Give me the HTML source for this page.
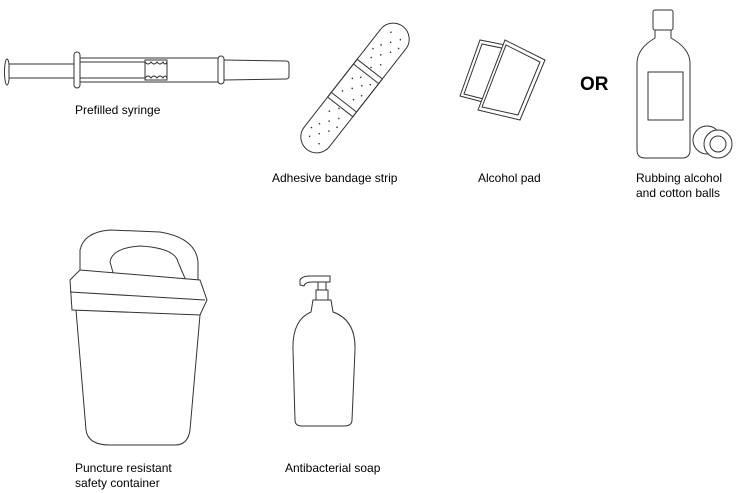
<!DOCTYPE html>
<html><head><style>
body{margin:0;background:#fff;width:739px;height:493px;overflow:hidden;}
svg{position:absolute;left:0;top:0}
text{font-family:"Liberation Sans",sans-serif;font-size:12px;fill:#000}
</style></head><body>
<svg width="739" height="493" viewBox="0 0 739 493" fill="none" stroke="#333" stroke-width="1">
<!-- syringe -->
<ellipse cx="7" cy="72" rx="2.5" ry="13" fill="#fff"/>
<rect x="9" y="64" width="65" height="14" fill="#fff"/>
<rect x="74" y="52" width="6" height="36" rx="3" fill="#fff"/>
<rect x="80" y="58" width="140" height="24" fill="#fff"/>
<line x1="80" y1="62" x2="145" y2="62"/><line x1="80" y1="78" x2="145" y2="78"/>
<rect x="145" y="60" width="22" height="20"/>
<path d="M145 62 q3 4 6 0 q3 4 6 0 q3 4 6 0 q2 4 4 0 M145 78 q3 -4 6 0 q3 -4 6 0 q3 -4 6 0 q2 -4 4 0"/>
<rect x="218" y="56" width="6" height="28" rx="3" fill="#fff"/>
<path d="M224 60 L286 61 Q289 61 289 64 L289 76 Q289 79 286 79 L224 80"/>
<text x="75" y="114" stroke="none">Prefilled syringe</text>
<!-- bandage -->
<g transform="translate(355,88) rotate(-52)">
<rect x="-78" y="-16" width="156" height="32" rx="16" fill="#fff"/>
<rect x="-24" y="-16" width="48" height="32"/>
<line x1="-18" y1="-16" x2="-18" y2="16"/><line x1="18" y1="-16" x2="18" y2="16"/>
<g fill="#333" stroke="none">
<circle cx="-66" cy="-6" r=".8"/><circle cx="-58" cy="0" r=".8"/><circle cx="-66" cy="6" r=".8"/><circle cx="-50" cy="-6" r=".8"/><circle cx="-50" cy="6" r=".8"/><circle cx="-42" cy="0" r=".8"/><circle cx="-34" cy="-6" r=".8"/><circle cx="-34" cy="6" r=".8"/><circle cx="-26" cy="0" r=".8"/><circle cx="-58" cy="-10" r=".8"/><circle cx="-42" cy="10" r=".8"/>
<circle cx="-10" cy="-8" r=".8"/><circle cx="-2" cy="-2" r=".8"/><circle cx="6" cy="4" r=".8"/><circle cx="-10" cy="6" r=".8"/><circle cx="6" cy="-8" r=".8"/><circle cx="-2" cy="10" r=".8"/><circle cx="12" cy="10" r=".8"/><circle cx="12" cy="-2" r=".8"/>
<circle cx="66" cy="-6" r=".8"/><circle cx="58" cy="0" r=".8"/><circle cx="66" cy="6" r=".8"/><circle cx="50" cy="-6" r=".8"/><circle cx="50" cy="6" r=".8"/><circle cx="42" cy="0" r=".8"/><circle cx="34" cy="-6" r=".8"/><circle cx="34" cy="6" r=".8"/><circle cx="26" cy="0" r=".8"/><circle cx="58" cy="10" r=".8"/><circle cx="42" cy="-10" r=".8"/>
</g></g>
<text x="272" y="182" stroke="none">Adhesive bandage strip</text>
<!-- alcohol pads -->
<path d="M460 96 L480 40 L520 48 L506 108 Z" fill="#fff"/>
<path d="M464 94 L482 44 L516 51 L503 104 Z"/>
<path d="M478 110 L505 40 L545 60 L520 120 Z" fill="#fff"/>
<path d="M482 107 L506 45 L540 62 L518 115 Z"/>
<text x="478" y="182" stroke="none">Alcohol pad</text>
<text x="580" y="90" stroke="none" style="font-size:19px;font-weight:bold">OR</text>
<!-- bottle -->
<rect x="653" y="10" width="20" height="20" rx="2" fill="#fff"/>
<path d="M655 30 L655 38 Q638 48 637 62 L637 150 Q637 158 645 158 L682 158 Q690 158 690 150 L690 62 Q689 48 671 38 L671 30"/>
<rect x="648" y="72" width="35" height="48"/>
<circle cx="707" cy="140" r="14" fill="#fff"/>
<circle cx="718" cy="144" r="14" fill="#fff"/><circle cx="718" cy="144" r="8"/>
<text x="636" y="182" stroke="none">Rubbing alcohol</text>
<text x="636" y="197" stroke="none">and cotton balls</text>
<!-- container -->
<path d="M80 278 L80 250 Q84 232 110 230 L160 232 Q196 238 198 262 L198 290 L85 290 Z" fill="#fff"/>
<path d="M110 262 Q112 248 140 246 Q175 248 178 262 L190 290 L118 290 Z"/>
<path d="M70 280 L80 270 L200 280 L207 300 L200 315 L72 310 Z" fill="#fff"/>
<line x1="70" y1="292" x2="205" y2="300"/>
<path d="M76 310 L86 430 Q88 445 110 445 L175 445 Q188 445 190 430 L200 315"/>
<text x="75" y="472" stroke="none">Puncture resistant</text>
<text x="75" y="487" stroke="none">safety container</text>
<!-- soap -->
<path d="M300 285 L300 280 Q302 276 310 276 L330 276 L330 282 L312 282 Q305 282 304 286 Z" fill="#fff"/>
<path d="M318 282 L326 282 L326 290 L318 290 Z"/>
<path d="M316 290 L328 290 L328 300 L316 300 Z"/>
<path d="M313 300 L331 300 L333 312 Q356 320 355 350 L352 420 Q352 426 344 426 L302 426 Q295 426 295 420 L293 350 Q292 320 311 312 Z" fill="#fff"/>
<text x="285" y="472" stroke="none">Antibacterial soap</text>
</svg>
</body></html>
